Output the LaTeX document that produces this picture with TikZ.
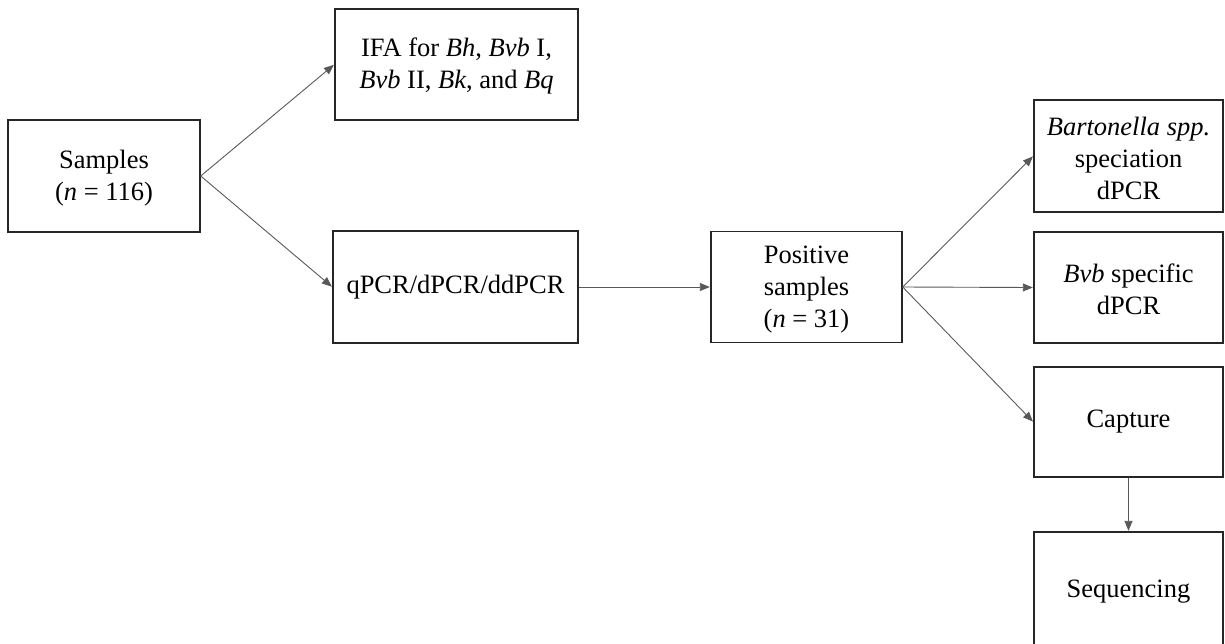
\documentclass[tikz,border=0pt]{standalone}
\usepackage{fontspec}
\setmainfont{Liberation Serif}
\usetikzlibrary{arrows.meta}
\tikzset{
  box/.style={draw=black!85, line width=1.4pt, fill=white, align=center,
    inner sep=0pt, font=\fontsize{26.5}{32}\selectfont},
  flow/.style={draw=black!65, line width=0.9pt,
    -{Triangle[length=10pt,width=8pt]}, shorten >=0.5pt}
}
\begin{document}
\begin{tikzpicture}[x=1pt,y=-1pt]
\useasboundingbox (0,0) rectangle (1225,643);
\clip (0,0) rectangle (1225,643);
% first column
\node[box, minimum width=192pt, minimum height=112pt] (samples) at (104,176)
  {\strut Samples\\(\textit{n} = 116)};
% second column
\node[box, minimum width=243pt, minimum height=111pt] (ifa) at (456.5,64.5)
  {\strut IFA for \textit{Bh}, \textit{Bvb} I,\\\textit{Bvb} II, \textit{Bk}, and \textit{Bq}};
\node[box, minimum width=245pt, minimum height=112pt] (pcr) at (455.5,287)
  {qPCR/dPCR/ddPCR};
% third column
\node[box, minimum width=191pt, minimum height=111pt] (pos) at (806.5,287)
  {\strut Positive\\samples\\(\textit{n} = 31)};
% fourth column
\node[box, minimum width=189pt, minimum height=112pt] (spec) at (1128.5,156)
  {\strut\textit{Bartonella spp.}\\speciation\\dPCR};
\node[box, minimum width=189pt, minimum height=111pt] (bvb) at (1128.5,287.5)
  {\strut\textit{Bvb} specific\\dPCR};
\node[box, minimum width=189pt, minimum height=110pt] (cap) at (1128.5,422)
  {Capture};
\node[box, minimum width=189pt, minimum height=120pt] (seq) at (1128.5,592)
  {Sequencing};
% connectors
\draw[flow] (samples.east) -- (ifa.west);
\draw[flow] (samples.east) -- (pcr.west);
\draw[flow] (pcr.east) -- (pos.west);
\draw[flow] (pos.east) -- (spec.west);
\draw[flow] (pos.east) -- (bvb.west);
\draw[flow] (pos.east) -- (cap.west);
\draw[flow] (cap.south) -- (seq.north);
\end{tikzpicture}
\end{document}
